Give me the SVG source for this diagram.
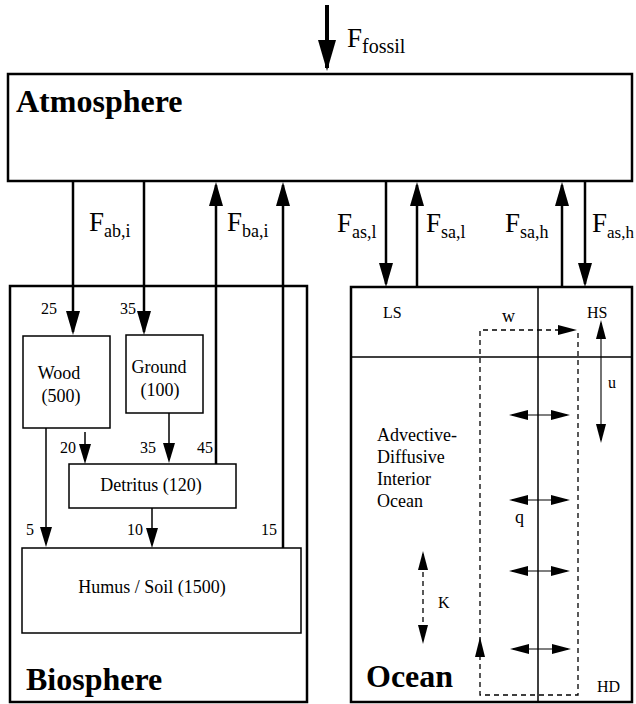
<svg xmlns="http://www.w3.org/2000/svg" width="636" height="704" viewBox="0 0 636 704" font-family="'Liberation Serif', 'DejaVu Serif', serif">
<style>
text{font-family:'Liberation Serif','DejaVu Serif',serif;fill:#000}
.F{font-size:27px}
.sub{font-size:18px}
.title{font-size:32px;font-weight:bold}
.lbl{font-size:18px}
.num{font-size:16px;text-anchor:middle}
.sm{font-size:16px}
.big{fill:#fff;stroke:#000;stroke-width:2.5}
.box{fill:#fff;stroke:#000;stroke-width:1.5}
.thick{stroke:#000;stroke-width:2.5;fill:none}
.mid{stroke:#000;stroke-width:1.5;fill:none}
.thin{stroke:#000;stroke-width:1.1;fill:none}
.dash{stroke:#000;stroke-width:1.3;fill:none;stroke-dasharray:5 4}
</style>
<defs>
<marker id="ah" markerUnits="userSpaceOnUse" markerWidth="24" markerHeight="14" refX="21" refY="7" orient="auto"><path d="M0,0 L24,7 L0,14 z" fill="#000"/></marker>
<marker id="fos" markerUnits="userSpaceOnUse" markerWidth="31" markerHeight="18" refX="28" refY="9" orient="auto"><path d="M0,0 L31,9 L0,18 z" fill="#000"/></marker>
<marker id="sm" markerUnits="userSpaceOnUse" markerWidth="20" markerHeight="12" refX="17" refY="6" orient="auto"><path d="M0,0 L20,6 L0,12 z" fill="#000"/></marker>
<marker id="tn" markerUnits="userSpaceOnUse" markerWidth="19" markerHeight="10" refX="16" refY="5" orient="auto-start-reverse"><path d="M0,0 L19,5 L0,10 z" fill="#000"/></marker>
</defs>

<g id="atmosphere">
<rect class="big" x="8" y="74" width="624" height="107"/>
<text class="title" x="16" y="112">Atmosphere</text>
</g>

<g id="biosphere">
<rect class="big" x="10" y="286" width="297" height="416"/>
<text class="title" x="26" y="690">Biosphere</text>
</g>

<g id="wood">
<rect class="box" x="23" y="336" width="87" height="92"/>
<text class="lbl" x="59" y="379" text-anchor="middle">Wood</text>
<text class="lbl" x="61" y="402" text-anchor="middle">(500)</text>
</g>

<g id="ground">
<rect class="box" x="126" y="335" width="77" height="78"/>
<text class="lbl" x="159" y="373" text-anchor="middle">Ground</text>
<text class="lbl" x="160" y="396" text-anchor="middle">(100)</text>
</g>

<g id="detritus">
<rect class="box" x="69" y="464" width="167" height="44"/>
<text class="lbl" x="151" y="491" text-anchor="middle">Detritus (120)</text>
</g>

<g id="humus">
<rect class="box" x="22" y="548" width="279" height="85"/>
<text class="lbl" x="152" y="593" text-anchor="middle">Humus / Soil (1500)</text>
</g>

<g id="ocean">
<rect class="big" x="351" y="287" width="281" height="415"/>
<line class="mid" x1="351" y1="357" x2="632" y2="357"/>
<line class="mid" x1="538" y1="287" x2="538" y2="702"/>
<text class="title" x="366" y="687">Ocean</text>
<text class="sm" x="383" y="318">LS</text>
<text class="sm" x="587" y="318">HS</text>
<text class="sm" x="597" y="692">HD</text>
<text class="lbl" x="377" y="441">Advective-</text>
<text class="lbl" x="377" y="463">Diffusive</text>
<text class="lbl" x="377" y="485">Interior</text>
<text class="lbl" x="377" y="507">Ocean</text>
</g>

<g id="connectors">
<line x1="327" y1="5" x2="327" y2="68" stroke="#000" stroke-width="4" marker-end="url(#fos)"/>
<line class="thick" x1="73" y1="181" x2="73" y2="332" marker-end="url(#ah)"/>
<line class="thick" x1="144" y1="181" x2="144" y2="332" marker-end="url(#ah)"/>
<line class="thick" x1="216" y1="464" x2="216" y2="185" marker-end="url(#ah)"/>
<line class="thick" x1="283" y1="548" x2="283" y2="185" marker-end="url(#ah)"/>
<line class="thick" x1="386" y1="181" x2="386" y2="284" marker-end="url(#ah)"/>
<line class="thick" x1="417" y1="287" x2="417" y2="185" marker-end="url(#ah)"/>
<line class="thick" x1="562" y1="287" x2="562" y2="185" marker-end="url(#ah)"/>
<line class="thick" x1="585" y1="181" x2="585" y2="284" marker-end="url(#ah)"/>

<line class="mid" x1="46" y1="428" x2="46" y2="544" marker-end="url(#sm)"/>
<line class="mid" x1="85" y1="432" x2="85" y2="461" marker-end="url(#sm)"/>
<line class="mid" x1="169" y1="413" x2="169" y2="460" marker-end="url(#sm)"/>
<line class="mid" x1="152" y1="508" x2="152" y2="545" marker-end="url(#sm)"/>

<line class="thin" x1="512" y1="415" x2="567" y2="415" marker-start="url(#tn)" marker-end="url(#tn)"/>
<line class="thin" x1="512" y1="500" x2="567" y2="500" marker-start="url(#tn)" marker-end="url(#tn)"/>
<line class="thin" x1="512" y1="571" x2="567" y2="571" marker-start="url(#tn)" marker-end="url(#tn)"/>
<line class="thin" x1="513" y1="649" x2="568" y2="649" marker-start="url(#tn)" marker-end="url(#tn)"/>
<line class="thin" x1="601" y1="323" x2="601" y2="440" marker-start="url(#tn)" marker-end="url(#tn)"/>
<line class="dash" x1="423" y1="554" x2="423" y2="641" marker-start="url(#tn)" marker-end="url(#tn)"/>

<path class="dash" d="M578,333 V695 H480 V330 H560"/>
<polygon points="558,325 577,330 558,335" fill="#000"/>
<polygon points="475,657 480,637 485,657" fill="#000"/>
</g>

<g id="labels">
<text class="F" x="347" y="47">F<tspan font-size="20" dy="6">fossil</tspan></text>
<text class="F" x="89" y="231">F<tspan class="sub" dy="6">ab,i</tspan></text>
<text class="F" x="227" y="231">F<tspan class="sub" dy="6">ba,i</tspan></text>
<text class="F" x="337" y="232">F<tspan class="sub" dy="6">as,l</tspan></text>
<text class="F" x="426" y="232">F<tspan class="sub" dy="6">sa,l</tspan></text>
<text class="F" x="505" y="232">F<tspan class="sub" dy="6">sa,h</tspan></text>
<text class="F" x="592" y="232">F<tspan font-size="17" dy="6">as,h</tspan></text>

<text class="num" x="49" y="314">25</text>
<text class="num" x="128" y="314">35</text>
<text class="num" x="68" y="453">20</text>
<text class="num" x="148" y="453">35</text>
<text class="num" x="205" y="453">45</text>
<text class="num" x="30" y="535">5</text>
<text class="num" x="135" y="535">10</text>
<text class="num" x="269" y="535">15</text>

<text class="lbl" x="502" y="322">w</text>
<text class="sm" x="608" y="388">u</text>
<text class="lbl" x="515" y="523">q</text>
<text class="sm" x="438" y="608">K</text>
</g>
</svg>
